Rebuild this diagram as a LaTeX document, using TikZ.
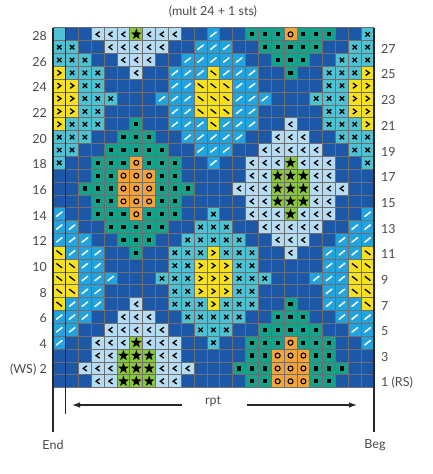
\documentclass[tikz,border=0pt]{standalone}
\usepackage{fontspec}
\setmainfont{Lato}
\usetikzlibrary{arrows.meta,positioning}

\definecolor{colD}{HTML}{1D57A8}
\definecolor{colB}{HTML}{22A3DE}
\definecolor{colL}{HTML}{B6DCF4}
\definecolor{colX}{HTML}{4EC2D3}
\definecolor{colC}{HTML}{4EC2D3}
\definecolor{colT}{HTML}{16A28A}
\definecolor{colO}{HTML}{F5A43C}
\definecolor{colS}{HTML}{8CC63F}
\definecolor{colY}{HTML}{F6E11C}
\definecolor{colZ}{HTML}{F6E11C}
\definecolor{gridgray}{HTML}{6E6E6E}
\definecolor{numgray}{HTML}{4A4A4A}

% stitch symbols, drawn round the cell centre
\newcommand\symD{}
\newcommand\symC{}
\newcommand\symT{\fill[black] (-2.1,-2.1) rectangle (2.1,2.1);}
\newcommand\symO{\draw[black,line width=1.1pt] (0,0) circle (2.5pt);}
\newcommand\symS{\fill[black] (-90:5.6) -- (-54:2.3) -- (-18:5.6) -- (18:2.3) -- (54:5.6)
  -- (90:2.3) -- (126:5.6) -- (162:2.3) -- (198:5.6) -- (234:2.3) -- cycle;}
\newcommand\symL{\draw[symline] (1.9,-2.6) -- (-1.7,0) -- (1.9,2.6);}
\newcommand\symY{\draw[symline] (-1.9,-2.6) -- (1.7,0) -- (-1.9,2.6);}
\newcommand\symX{\draw[symline] (-2.2,-2.2) -- (2.2,2.2) (-2.2,2.2) -- (2.2,-2.2);}
\newcommand\symB{\draw[white,line width=1.5pt,line cap=round] (-2.8,2.2) -- (2.8,-2.2);}
\newcommand\symZ{\draw[symline] (-2.8,-2.2) -- (2.8,2.2);}

\begin{document}
\begin{tikzpicture}[x=1pt,y=-1pt,
  symline/.style={black,line width=1.3pt},
  gridline/.style={gridgray,line width=0.9pt},
  edge/.style={black!85,line width=1.4pt},
  rptarrow/.style={black!85,line width=1.1pt,-{Latex[length=8pt,width=5.5pt]}},
  rownum/.style={text=numgray,font=\fontsize{12.5}{14}\selectfont,inner sep=0pt}]
\useasboundingbox (0,0) rectangle (432,474);
\fill[white] (0,0) rectangle (432,474);

% chart, top row (28) first
\foreach \cells [count=\i] in {
  {C,D,D,L,L,L,S,L,L,L,D,D,B,D,D,T,T,T,O,T,T,T,D,D,X},
  {X,X,D,D,L,L,L,L,L,D,D,B,B,B,D,D,T,T,T,T,T,D,D,X,X},
  {X,X,X,D,D,L,L,L,D,D,B,B,B,B,B,D,D,T,T,T,D,D,X,X,X},
  {Y,X,X,X,D,D,L,D,D,B,B,B,Z,B,B,B,D,D,T,D,D,X,X,X,Y},
  {Y,Y,X,X,D,D,D,D,D,B,B,Z,Z,Z,B,B,D,D,D,D,D,X,X,Y,Y},
  {Y,Y,X,X,X,D,D,D,B,B,B,Z,Z,Z,B,B,B,D,D,D,X,X,X,Y,Y},
  {Y,Y,X,X,D,D,D,D,D,B,B,Z,Z,Z,B,B,D,D,D,D,D,X,X,Y,Y},
  {Y,X,X,X,D,D,T,D,D,B,B,B,Z,B,B,B,D,D,L,D,D,X,X,X,Y},
  {X,X,X,D,D,T,T,T,D,D,B,B,B,B,B,D,D,L,L,L,D,D,X,X,X},
  {X,X,D,D,T,T,T,T,T,D,D,B,B,B,D,D,L,L,L,L,L,D,D,X,X},
  {X,D,D,T,T,T,O,T,T,T,D,D,B,D,D,L,L,L,S,L,L,L,D,D,X},
  {D,D,D,T,T,O,O,O,T,T,D,D,D,D,D,L,L,S,S,S,L,L,D,D,D},
  {D,D,T,T,T,O,O,O,T,T,T,D,D,D,L,L,L,S,S,S,L,L,L,D,D},
  {D,D,D,T,T,O,O,O,T,T,D,D,D,D,D,L,L,S,S,S,L,L,D,D,D},
  {B,D,D,T,T,T,O,T,T,T,D,D,X,D,D,L,L,L,S,L,L,L,D,D,B},
  {B,B,D,D,T,T,T,T,T,D,D,X,X,X,D,D,L,L,L,L,L,D,D,B,B},
  {B,B,B,D,D,T,T,T,D,D,X,X,X,X,X,D,D,L,L,L,D,D,B,B,B},
  {Z,B,B,B,D,D,T,D,D,X,X,X,Y,X,X,X,D,D,L,D,D,B,B,B,Z},
  {Z,Z,B,B,D,D,D,D,D,X,X,Y,Y,Y,X,X,D,D,D,D,D,B,B,Z,Z},
  {Z,Z,B,B,B,D,D,D,X,X,X,Y,Y,Y,X,X,X,D,D,D,B,B,B,Z,Z},
  {Z,Z,B,B,D,D,D,D,D,X,X,Y,Y,Y,X,X,D,D,D,D,D,B,B,Z,Z},
  {Z,B,B,B,D,D,L,D,D,X,X,X,Y,X,X,X,D,D,T,D,D,B,B,B,Z},
  {B,B,B,D,D,L,L,L,D,D,X,X,X,X,X,D,D,T,T,T,D,D,B,B,B},
  {B,B,D,D,L,L,L,L,L,D,D,X,X,X,D,D,T,T,T,T,T,D,D,B,B},
  {B,D,D,L,L,L,S,L,L,L,D,D,X,D,D,T,T,T,O,T,T,T,D,D,B},
  {D,D,D,L,L,S,S,S,L,L,D,D,D,D,D,T,T,O,O,O,T,T,D,D,D},
  {D,D,L,L,L,S,S,S,L,L,L,D,D,D,T,T,T,O,O,O,T,T,T,D,D},
  {D,D,D,L,L,S,S,S,L,L,D,D,D,D,D,T,T,O,O,O,T,T,D,D,D}}
{
  \pgfmathsetmacro\ry{27.9+(\i-1)*12.85}
  \foreach \t [count=\c] in \cells {
    \pgfmathsetmacro\cx{52.8+(\c-1)*12.85}
    \fill[fill=col\t] (\cx,\ry) rectangle +(12.85,12.85);
    \begin{scope}[shift={(\cx+6.425,\ry+6.425)}]
      \csname sym\t\endcsname
    \end{scope}
  }
}
% grid
\foreach \k in {0,...,25}
  \draw[gridline] (52.8+\k*12.85,27.9) -- +(0,359.8);
\foreach \k in {0,...,28}
  \draw[gridline] (52.8,27.9+\k*12.85) -- +(321.25,0);

% edges of the chart and the repeat
\coordinate (endtop) at (52.8,27.9);
\coordinate (endbot) at (52.8,432);
\coordinate (rpttop) at (65.65,27.9);
\coordinate (rptbot) at (65.65,414);
\coordinate (begtop) at (374.05,27.9);
\coordinate (begbot) at (374.05,432);
\draw[edge] (endtop) -- (endbot);
\draw[edge] (rpttop) -- (rptbot);
\draw[edge] (begtop) -- (begbot);
\coordinate (rptLa) at (182,405);
\coordinate (rptLb) at (72,405);
\coordinate (rptRa) at (247,405);
\coordinate (rptRb) at (357,405);
\draw[rptarrow] (rptLa) -- (rptLb);
\draw[rptarrow] (rptRa) -- (rptRb);

% row numbers
\foreach \r in {4,6,...,28}
  \node[rownum,anchor=east] (n\r) at (47,{27.9+(28.5-\r)*12.85+1.5}) {\r};
\node[rownum,anchor=east] (n2) at (47,{27.9+26.5*12.85+1.5}) {(WS) 2};
\foreach \r in {3,5,...,27}
  \node[rownum,anchor=west] (n\r) at (381,{27.9+(28.5-\r)*12.85+1.5}) {\r};
\node[rownum,anchor=west] (n1) at (381,{27.9+27.5*12.85+1.5}) {1 (RS)};

\node[rownum] (title) at (213,12) {(mult 24 + 1 sts)};
\node[rownum] (rpt) at (213,401) {rpt};
\node[rownum] (endlbl) at (53,445) {End};
\node[rownum] (beglbl) at (375,445) {Beg};
\end{tikzpicture}
\end{document}
